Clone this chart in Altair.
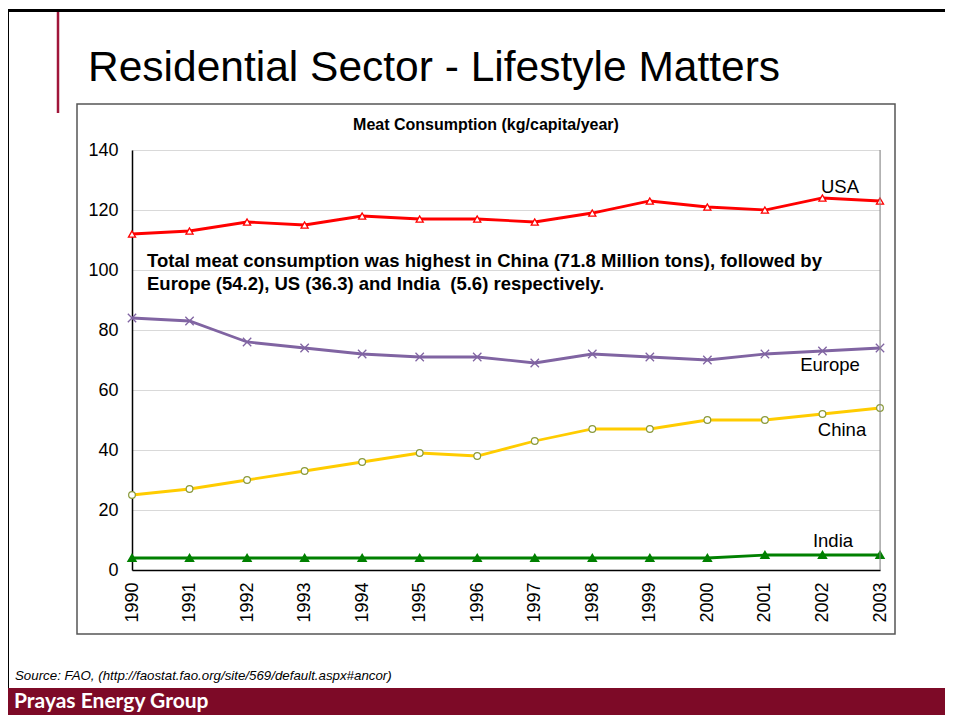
import altair as alt
import pandas as pd

years = list(range(1990, 2004))
usa = [112, 113, 116, 115, 118, 117, 117, 116, 119, 123, 121, 120, 124, 123]
europe = [84, 83, 76, 74, 72, 71, 71, 69, 72, 71, 70, 72, 73, 74]
china = [25, 27, 30, 33, 36, 39, 38, 43, 47, 47, 50, 50, 52, 54]
india = [4, 4, 4, 4, 4, 4, 4, 4, 4, 4, 4, 5, 5, 5]

series_names = ["USA", "Europe", "China", "India"]
series_values = [usa, europe, china, india]
line_colors = ["#ff0000", "#8064a2", "#ffcc00", "#008000"]
y_ticks = [0, 20, 40, 60, 80, 100, 120, 140]

rows = []
for name, vals in zip(series_names, series_values):
    for yr, v in zip(years, vals):
        rows.append({"year": yr, "value": v, "series": name})
df = pd.DataFrame(rows)

W, H = 748, 420
FONT = "Liberation Sans"

x_enc = alt.X("year:Q", scale=alt.Scale(domain=[1990, 2003], nice=False, zero=False),
              axis=alt.Axis(values=years, format="d", labelAngle=270, labelFontSize=18,
                            labelFont=FONT, labelColor="black", tickSize=0, labelPadding=12,
                            domainColor="black", domainWidth=1.5, grid=False, title=None,
                            labelAlign="right", labelBaseline="middle"))
y_enc = alt.Y("value:Q", scale=alt.Scale(domain=[0, 140], nice=False),
              axis=alt.Axis(values=y_ticks, labelFontSize=18, labelFont=FONT, labelColor="black",
                            tickSize=0, labelPadding=14, domainColor="black", domainWidth=1.5,
                            grid=True, gridColor="#d9d9d9", gridWidth=1, title=None))
color_enc = alt.Color("series:N", scale=alt.Scale(domain=series_names, range=line_colors), legend=None)

base = alt.Chart(df)
lines = base.mark_line(strokeWidth=2.8).encode(x=x_enc, y=y_enc, color=color_enc, detail="series:N")

usa_pts = base.transform_filter(alt.datum.series == "USA").mark_point(
    shape="triangle-up", filled=True, fill="white", stroke="#ff0000", strokeWidth=1.3, size=50, opacity=1
).encode(x="year:Q", y="value:Q")
eu_pts = base.transform_filter(alt.datum.series == "Europe").mark_point(
    shape="M-1,-1L1,1M-1,1L1,-1", filled=False, stroke="#8064a2", strokeWidth=1.3, size=70, opacity=1
).encode(x="year:Q", y="value:Q")
cn_pts = base.transform_filter(alt.datum.series == "China").mark_point(
    shape="circle", filled=True, fill="white", stroke="#8a9a3a", strokeWidth=1.2, size=45, opacity=1
).encode(x="year:Q", y="value:Q")
in_pts = base.transform_filter(alt.datum.series == "India").mark_point(
    shape="triangle-up", filled=True, fill="#008000", stroke="#008000", size=50, opacity=1
).encode(x="year:Q", y="value:Q")

# decorations (pixel positions relative to plot origin)
def rule(x1, x2, y1, y2, color, width):
    return alt.Chart(pd.DataFrame({"a": [0]})).mark_rule(color=color, strokeWidth=width).encode(
        x=alt.value(x1), x2=alt.value(x2), y=alt.value(y1), y2=alt.value(y2))

def txt(s, x, y, size, weight="normal", style="normal", align="left", color="black", font=FONT):
    return alt.Chart(pd.DataFrame({"t": [s]})).mark_text(
        fontSize=size, fontWeight=weight, fontStyle=style, align=align, baseline="middle",
        color=color, font=font).encode(text="t:N", x=alt.value(x), y=alt.value(y))

right_edge = rule(W, W, 0, H, "#888888", 1)
page_left = rule(-124.5, -124.5, -141, 538, "black", 3)
page_top = rule(-126, 821, -139.5, -139.5, "black", 3)
red_line = rule(-74, -74, -138, -37, "#a0163a", 2.5)

outer_box = alt.Chart(pd.DataFrame({"a": [0]})).mark_rect(
    fill="transparent", stroke="#555555", strokeWidth=1.5).encode(
    x=alt.value(-55), x2=alt.value(763), y=alt.value(-46), y2=alt.value(484))

bottom_bar = alt.Chart(pd.DataFrame({"a": [0]})).mark_rect(fill="#7d0a27").encode(
    x=alt.value(-124), x2=alt.value(821), y=alt.value(538), y2=alt.value(573))

texts = [
    txt("Residential Sector - Lifestyle Matters", -44, -82, 42.5),
    txt("Meat Consumption (kg/capita/year)", 354, -25, 16, weight="bold", align="center"),
    txt("Total meat consumption was highest in China (71.8 Million tons), followed by", 15, 111, 18.5, weight="bold"),
    txt("Europe (54.2), US (36.3) and India \u00a0(5.6) respectively.", 15, 134, 18.5, weight="bold"),
    txt("USA", 708, 37, 18.5, align="center"),
    txt("Europe", 698, 215, 18.5, align="center"),
    txt("China", 710, 280, 18.5, align="center"),
    txt("India", 701, 391, 18.5, align="center"),
    txt("Source: FAO, (http://faostat.fao.org/site/569/default.aspx#ancor)", -117, 526, 13.3, style="italic"),
    txt("Prayas Energy Group", -118, 552, 21, weight="bold", color="white", font="Lato"),
]

chart = alt.layer(
    outer_box, bottom_bar, page_left, page_top, red_line,
    lines, usa_pts, eu_pts, cn_pts, in_pts, right_edge, *texts
).properties(
    width=W, height=H,
    autosize=alt.AutoSizeParams(type="none"),
    padding={"left": 124, "top": 142, "right": 65, "bottom": 145},
).configure_view(stroke=None, clip=False).configure(background="white")

chart.save("out.html", embed_options={"renderer": "svg", "actions": False})
